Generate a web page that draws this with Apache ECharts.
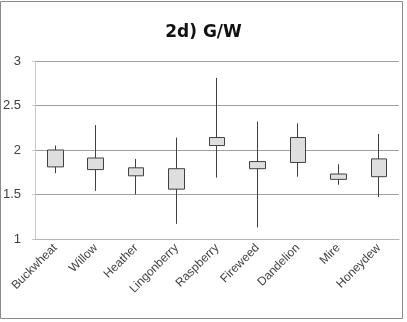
<!DOCTYPE html>
<html>
<head>
<meta charset="utf-8">
<script src="https://cdn.jsdelivr.net/npm/echarts@6/dist/echarts.min.js"></script>
<style>html,body{margin:0;padding:0;background:#fff}#c{width:407px;height:322px}</style>
</head>
<body>
<div id="c"></div>
<script>
var categories = ['Buckwheat','Willow','Heather','Lingonberry','Raspberry','Fireweed','Dandelion','Mire','Honeydew'];
var boxLow      = [1.81, 1.78, 1.71, 1.56, 2.05, 1.79, 1.86, 1.67, 1.70];
var boxHigh     = [2.00, 1.91, 1.80, 1.79, 2.14, 1.87, 2.14, 1.73, 1.90];
var whiskerLow  = [1.74, 1.54, 1.50, 1.17, 1.69, 1.13, 1.70, 1.61, 1.47];
var whiskerHigh = [2.05, 2.28, 1.90, 2.14, 2.81, 2.32, 2.30, 1.84, 2.18];
var yTicks = [1, 1.5, 2, 2.5, 3];

var data = categories.map(function (c, i) {
  return [boxLow[i], boxHigh[i], whiskerLow[i], whiskerHigh[i]];
});

var chart = echarts.init(document.getElementById('c'), null, {renderer: 'canvas'});
chart.setOption({
  animation: false,
  backgroundColor: '#fff',
  title: {
    text: '2d) G/W',
    left: 'center',
    top: 19,
    textStyle: {fontFamily: 'DejaVu Sans', fontWeight: 'bold', fontSize: 17, color: '#111'}
  },
  graphic: [{
    type: 'rect',
    shape: {x: 0.5, y: 1.5, width: 402, height: 317},
    style: {fill: 'none', stroke: '#8a8a8a', lineWidth: 1},
    silent: true
  }],
  grid: {left: 35, right: 8, top: 61, bottom: 83},
  xAxis: {
    type: 'category',
    data: categories,
    axisLine: {lineStyle: {color: '#b5b5b5'}},
    axisTick: {show: false},
    axisLabel: {rotate: 45, fontSize: 12, color: '#404040', fontFamily: 'Liberation Sans', margin: 7, interval: 0}
  },
  yAxis: {
    type: 'value',
    min: yTicks[0],
    max: yTicks[yTicks.length - 1],
    interval: 0.5,
    axisLine: {show: true, lineStyle: {color: '#c8c8c8'}},
    axisTick: {show: true, length: 3, lineStyle: {color: '#c8c8c8'}},
    splitLine: {lineStyle: {color: '#a0a0a0'}},
    axisLabel: {fontSize: 13, color: '#404040', fontFamily: 'Liberation Sans', margin: 14}
  },
  series: [{
    type: 'candlestick',
    data: data,
    barWidth: 16,
    itemStyle: {
      color: '#dedede', color0: '#dedede',
      borderColor: '#404040', borderColor0: '#404040',
      borderWidth: 1
    }
  }]
});
</script>
</body>
</html>
